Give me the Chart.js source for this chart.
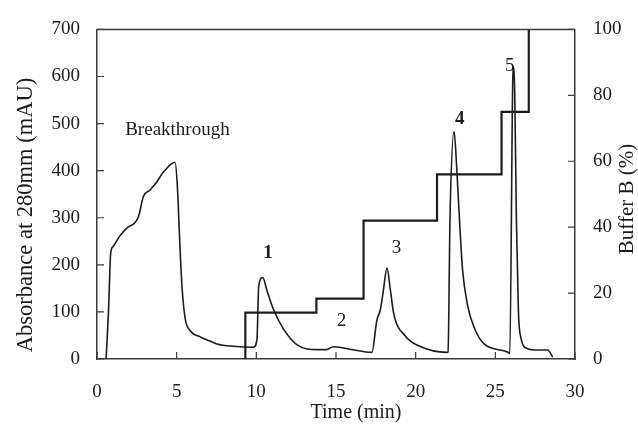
<!DOCTYPE html>
<html>
<head>
<meta charset="utf-8">
<script src="https://cdn.jsdelivr.net/npm/chart.js@4/dist/chart.umd.min.js"></script>
<style>
  html, body { margin: 0; padding: 0; background: #fff; }
  #wrap { width: 638px; height: 424px; }
</style>
</head>
<body>
<div id="wrap"><canvas id="c" width="638" height="424"></canvas></div>
<script>
// ---- data ----
const absTime = [0.57, 0.72, 0.86, 0.99, 1.45, 1.87, 2.39, 2.6, 2.91, 3.33, 3.75, 4.17, 4.9,
  5.05, 5.18, 5.33, 5.53, 5.85, 6.48, 7.1, 7.53, 8.57, 9.83,
  10.04, 10.15, 10.4, 10.67, 11.09, 11.72, 12.56, 13.82,
  14.4, 14.84, 15.2, 15.99, 17.25,
  17.57, 17.78, 17.95, 18.2, 18.4, 18.62, 19.35, 20.19, 21.97,
  22.03, 22.16, 22.41, 22.58, 22.73, 22.94, 23.25, 23.67, 24.3, 25.77,
  25.91, 26.1, 26.16, 26.22, 26.32, 26.45, 26.6, 27.02, 27.65, 28.28, 28.6];
const absValue = [0, 100, 225, 238, 262, 278, 290, 302, 345, 359, 376, 397, 418,
  363, 260, 156, 87, 60, 47, 38, 32, 27, 25,
  42, 155, 173, 145, 104, 63, 30, 20,
  20, 26, 25, 20, 14,
  83, 104, 140, 193, 150, 97, 49, 28, 14,
  15, 308, 483, 404, 308, 191, 115, 67, 32, 15,
  12, 600, 620, 560, 300, 100, 46, 22, 19, 19, 4];

const bufTime = [9.31, 9.31, 13.77, 16.73, 21.34, 25.39, 27.1];
const bufValue = [0, 14.1, 18.3, 42, 56, 75, 100];

const xTicks = [0, 5, 10, 15, 20, 25, 30];
const yTicks = [0, 100, 200, 300, 400, 500, 600, 700];
const y2Ticks = [0, 20, 40, 60, 80, 100];

const labels = ['Breakthrough', '1', '2', '3', '4', '5'];
const labelTime = [1.77, 10.73, 15.34, 18.8, 22.76, 25.9];
const labelValue = [476, 215, 70, 225, 499, 611];
const labelBold = [false, true, false, false, true, false];
const labelAlign = ['left', 'center', 'center', 'center', 'center', 'center'];

const xTitle = 'Time (min)';
const yTitle = 'Absorbance at 280mm (mAU)';
const y2Title = 'Buffer B (%)';

// ---- chart ----
const SERIF = '"Liberation Serif", "Times New Roman", serif';
const INK = '#1c1c1c';
const AXIS = '#3a3a3a';

const absData = absTime.map((t, i) => ({ x: t, y: absValue[i] }));
const bufData = bufTime.map((t, i) => ({ x: t, y: bufValue[i] }));

const decor = {
  id: 'decor',
  afterDraw(chart) {
    const { ctx, chartArea: a, scales } = chart;
    const sx = scales.x, sy = scales.y, sy2 = scales.y2;
    ctx.save();
    // frame top line
    ctx.strokeStyle = AXIS;
    ctx.lineWidth = 1.5;
    ctx.beginPath();
    ctx.moveTo(a.left, a.top); ctx.lineTo(a.right, a.top);
    ctx.stroke();
    // inward ticks
    ctx.lineWidth = 1.2;
    ctx.beginPath();
    yTicks.forEach(v => { const p = sy.getPixelForValue(v); ctx.moveTo(a.left, p); ctx.lineTo(a.left + 7, p); });
    y2Ticks.forEach(v => { const p = sy2.getPixelForValue(v); ctx.moveTo(a.right, p); ctx.lineTo(a.right - 7, p); });
    xTicks.forEach(v => { const p = sx.getPixelForValue(v); ctx.moveTo(p, a.bottom); ctx.lineTo(p, a.bottom - 7); });
    ctx.stroke();

    // annotations
    ctx.fillStyle = INK;
    ctx.textBaseline = 'alphabetic';
    labels.forEach((s, i) => {
      ctx.font = (labelBold[i] ? 'bold ' : '') + '19px ' + SERIF;
      ctx.textAlign = labelAlign[i];
      ctx.fillText(s, sx.getPixelForValue(labelTime[i]), sy.getPixelForValue(labelValue[i]));
    });

    // axis titles
    ctx.font = '20px ' + SERIF;
    ctx.textAlign = 'center';
    ctx.textBaseline = 'middle';
    ctx.fillText(xTitle, 356, 413);

    ctx.font = '22.5px ' + SERIF;
    ctx.save();
    ctx.translate(26, 215);
    ctx.rotate(-Math.PI / 2);
    ctx.fillText(yTitle, 0, 0);
    ctx.restore();

    ctx.font = '21px ' + SERIF;
    ctx.save();
    ctx.translate(627, 199);
    ctx.rotate(-Math.PI / 2);
    ctx.fillText(y2Title, 0, 0);
    ctx.restore();
    ctx.restore();
  }
};

const tickFont = { family: SERIF, size: 19 };

new Chart(document.getElementById('c'), {
  type: 'scatter',
  data: {
    datasets: [
      {
        label: 'Absorbance',
        data: absData,
        showLine: true,
        borderColor: INK,
        borderWidth: 1.6,
        pointRadius: 0,
        cubicInterpolationMode: 'monotone',
        yAxisID: 'y'
      },
      {
        label: 'Buffer B',
        data: bufData,
        showLine: true,
        stepped: 'before',
        borderColor: INK,
        borderWidth: 2.2,
        pointRadius: 0,
        yAxisID: 'y2'
      }
    ]
  },
  options: {
    responsive: false,
    animation: false,
    devicePixelRatio: 1,
    layout: { padding: { top: 20, left: 0, right: 0, bottom: 0 } },
    plugins: { legend: { display: false }, tooltip: { enabled: false } },
    scales: {
      x: {
        type: 'linear', min: 0, max: 30,
        afterBuildTicks: s => { s.ticks = xTicks.map(v => ({ value: v })); },
        ticks: { font: tickFont, color: INK, padding: 22, maxRotation: 0 },
        grid: { display: false, drawTicks: false },
        border: { display: true, color: AXIS, width: 1.5 },
        afterFit: s => { s.height = 65; }
      },
      y: {
        position: 'left', min: 0, max: 700,
        afterBuildTicks: s => { s.ticks = yTicks.map(v => ({ value: v })); },
        ticks: { font: tickFont, color: INK, padding: 17 },
        grid: { display: false, drawTicks: false },
        border: { display: true, color: AXIS, width: 1.5 },
        afterFit: s => { s.width = 97; }
      },
      y2: {
        position: 'right', min: 0, max: 100,
        afterBuildTicks: s => { s.ticks = y2Ticks.map(v => ({ value: v })); },
        ticks: { font: tickFont, color: INK, padding: 18 },
        grid: { display: false, drawTicks: false },
        border: { display: true, color: AXIS, width: 1.5 },
        afterFit: s => { s.width = 63; }
      }
    }
  },
  plugins: [decor]
});
</script>
</body>
</html>
